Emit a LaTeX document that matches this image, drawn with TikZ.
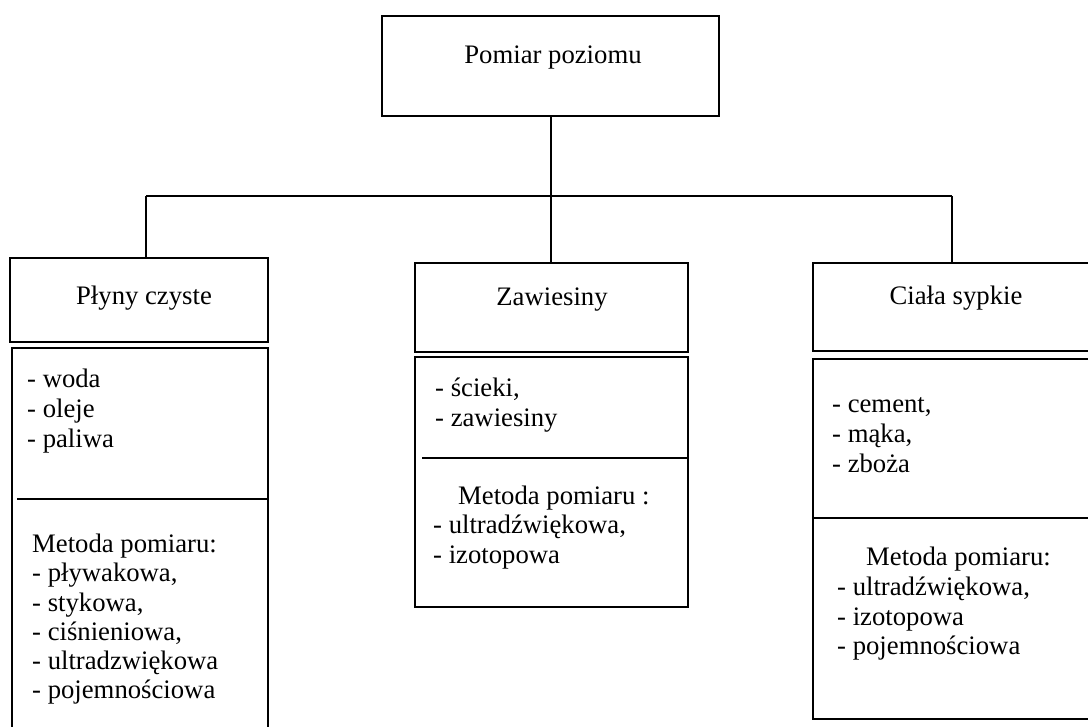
\documentclass[tikz,border=0pt]{standalone}
\usepackage{fontspec}
\setmainfont{Liberation Serif}
\begin{document}
\begin{tikzpicture}[x=1pt,y=-1pt,
  boxs/.style={draw, line width=2.2pt, inner sep=0pt},
  conn/.style={draw, line width=2pt},
  sep/.style={draw, line width=2.2pt},
  txt/.style={inner sep=0pt, font=\fontsize{26.7pt}{30pt}\selectfont},
  item/.style={txt, anchor=base west},
  title/.style={txt, anchor=base}]
\useasboundingbox (0,0) rectangle (1088,727);
\clip (0,0) rectangle (1088,727);
% boxes
\node[boxs, minimum width=337pt, minimum height=100pt] (top) at (550.5,66) {};
\node[boxs, minimum width=258pt, minimum height=84pt] (h1) at (139,300) {};
\node[boxs, minimum width=256pt, minimum height=392pt] (b1) at (140,544) {};
\node[boxs, minimum width=273pt, minimum height=89pt] (h2) at (551.5,307.5) {};
\node[boxs, minimum width=273pt, minimum height=250pt] (b2) at (551.5,482) {};
\node[boxs, minimum width=287pt, minimum height=88pt] (h3) at (956.5,307) {};
\node[boxs, minimum width=287pt, minimum height=360pt] (b3) at (956.5,539) {};
% dividers
\draw[sep] (17,499) -- (b1.east |- 0,499);
\draw[sep] (422,458) -- (b2.east |- 0,458);
\draw[sep] (b3.west |- 0,518) -- (b3.east |- 0,518);
% connectors
\coordinate (busL) at (146,196);
\coordinate (busR) at (952,196);
\draw[conn] (top.south) -- (top.south |- busL);
\draw[conn] (busL) -- (busR);
\draw[conn] (busL) -- (busL |- h1.north);
\draw[conn] (top.south |- busL) -- (top.south |- h2.north);
\draw[conn] (busR) -- (busR |- h3.north);
% titles
\node[title] (t0) at (553,64) {Pomiar poziomu};
\node[title] (t1) at (144,305) {Płyny czyste};
\node[title] (t2) at (552,306) {Zawiesiny};
\node[title] (t3) at (956,305) {Ciała sypkie};
% left lists
\node[item] (l1) at (27,388) {- woda};
\node[item] (l2) at (27,417.5) {- oleje};
\node[item] (l3) at (27,447) {- paliwa};
\node[item] (l4) at (32,552) {Metoda pomiaru:};
\node[item] (l5) at (32,581.5) {- pływakowa,};
\node[item] (l6) at (32,611) {- stykowa,};
\node[item] (l7) at (32,640) {- ciśnieniowa,};
\node[item] (l8) at (32,669) {- ultradzwiękowa};
\node[item] (l9) at (32,698) {- pojemnościowa};
% middle lists
\node[item] (m1) at (435,397) {- ścieki,};
\node[item] (m2) at (435,426.5) {- zawiesiny};
\node[item] (m3) at (458,504) {Metoda pomiaru :};
\node[item] (m4) at (433,533.5) {- ultradźwiękowa,};
\node[item] (m5) at (433,563) {- izotopowa};
% right lists
\node[item] (r1) at (832,413) {- cement,};
\node[item] (r2) at (832,442.5) {- mąka,};
\node[item] (r3) at (832,472) {- zboża};
\node[item] (r4) at (866,565) {Metoda pomiaru:};
\node[item] (r5) at (837,595) {- ultradźwiękowa,};
\node[item] (r6) at (837,625) {- izotopowa};
\node[item] (r7) at (837,654) {- pojemnościowa};
\end{tikzpicture}
\end{document}
